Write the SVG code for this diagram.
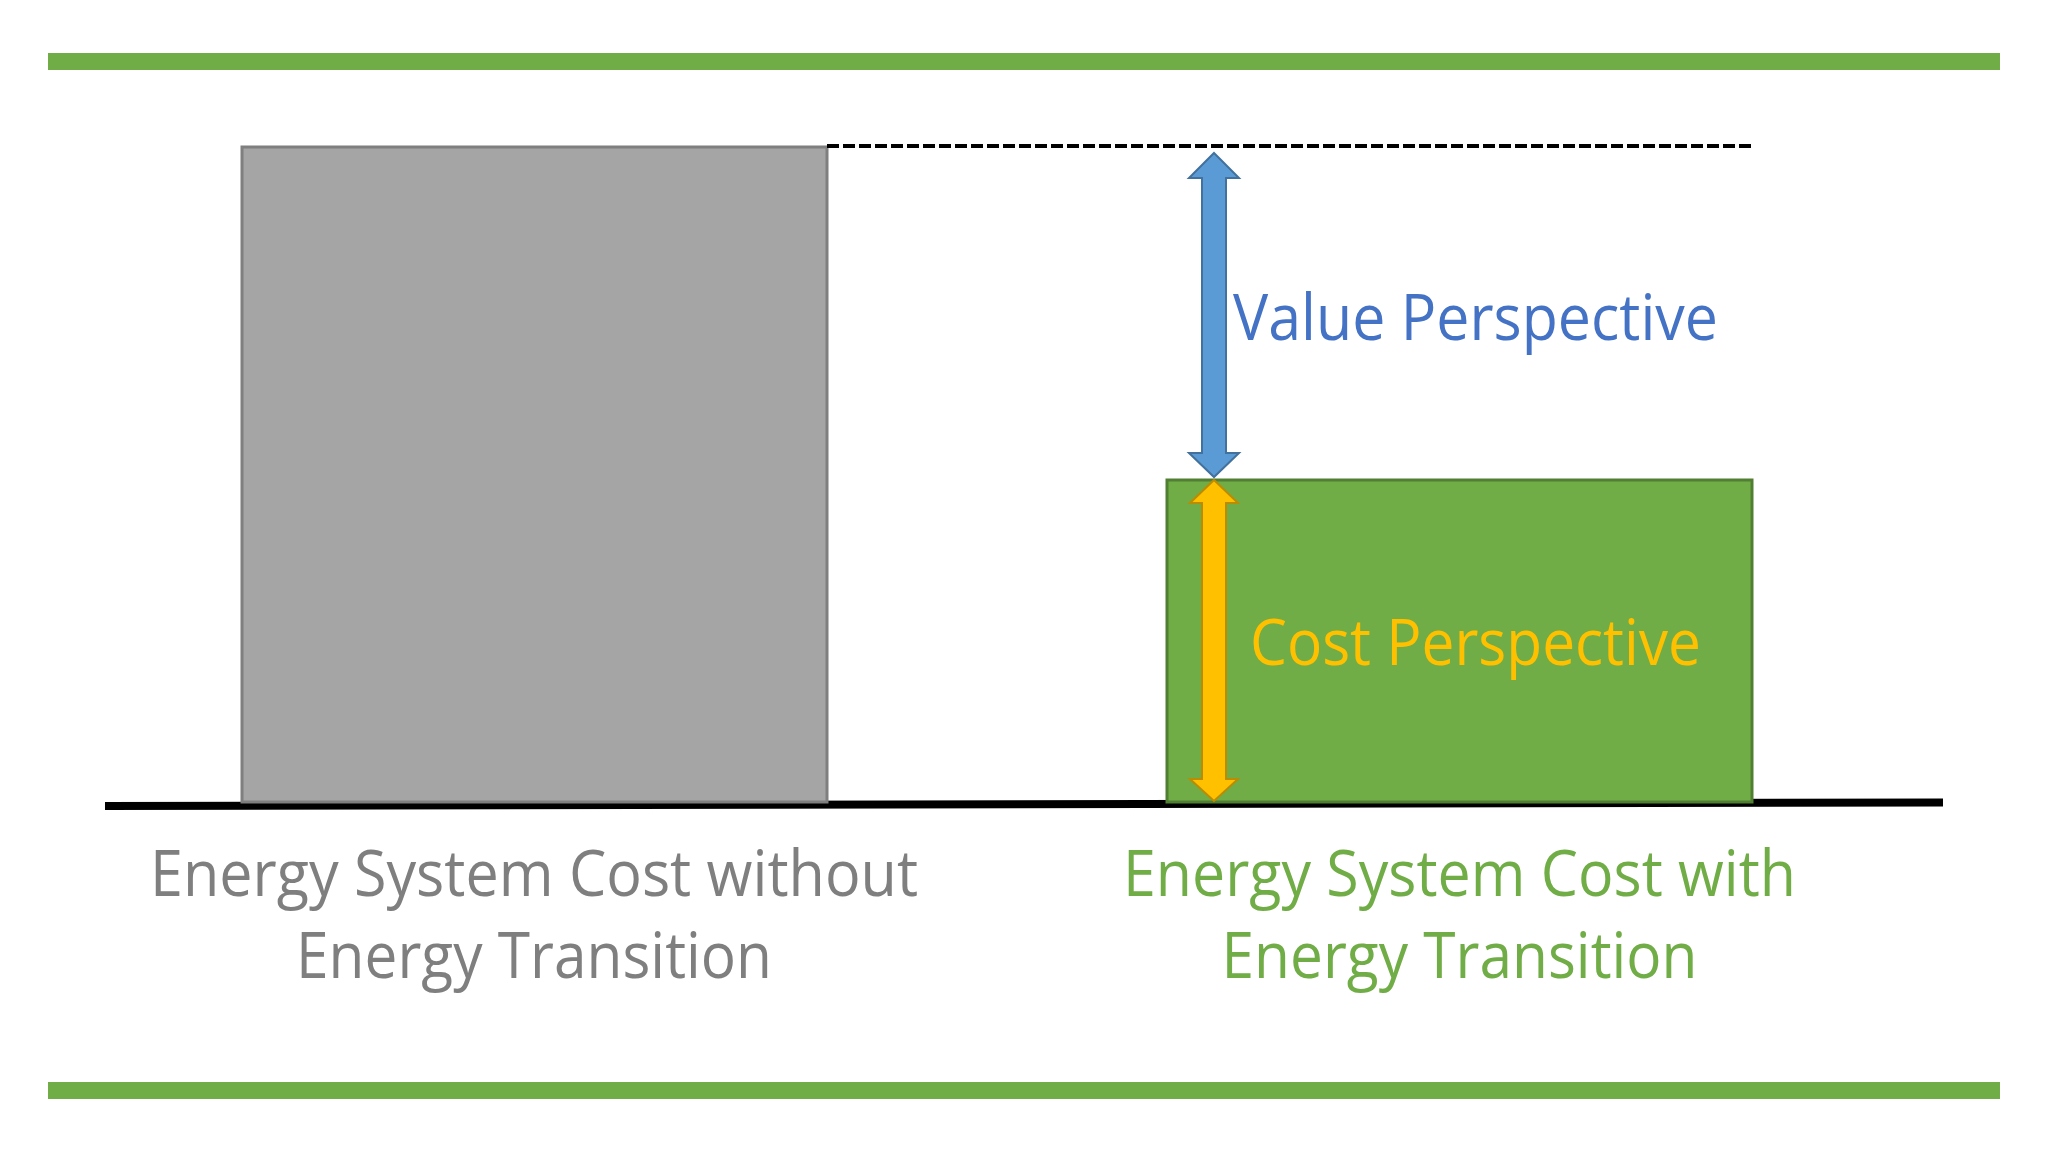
<svg xmlns="http://www.w3.org/2000/svg" width="2048" height="1152" viewBox="0 0 2048 1152">
<style>
.lbl{font-family:"Open Sans","Liberation Sans",sans-serif;font-size:64px}
.gray{fill:#7f7f7f}
.green{fill:#70ad47}
</style>
<rect x="0" y="0" width="2048" height="1152" fill="#ffffff"/>
<g id="frame">
<rect x="48" y="53" width="1952" height="17" fill="#70ad47"/>
<rect x="48" y="1082" width="1952" height="17" fill="#70ad47"/>
</g>
<g id="axis">
<line x1="105" y1="806" x2="1943" y2="802.5" stroke="#000000" stroke-width="8"/>
</g>
<g id="bar-without">
<rect x="242" y="147" width="585" height="655" fill="#a5a5a5" stroke="#7f7f7f" stroke-width="3"/>
<text class="lbl gray" x="534" y="896" text-anchor="middle" textLength="768" lengthAdjust="spacingAndGlyphs">Energy System Cost without</text>
<text class="lbl gray" x="534" y="978" text-anchor="middle" textLength="476" lengthAdjust="spacingAndGlyphs">Energy Transition</text>
</g>
<g id="bar-with">
<rect x="1167" y="480" width="585" height="322" fill="#70ad47" stroke="#507e32" stroke-width="3"/>
<text class="lbl green" x="1459.5" y="896" text-anchor="middle" textLength="673" lengthAdjust="spacingAndGlyphs">Energy System Cost with</text>
<text class="lbl green" x="1459.5" y="978" text-anchor="middle" textLength="476" lengthAdjust="spacingAndGlyphs">Energy Transition</text>
</g>
<g id="connectors">
<line x1="827" y1="146" x2="1752" y2="146" stroke="#000000" stroke-width="4" stroke-dasharray="12 4"/>
<polygon points="1214,153 1239,178 1226,178 1226,453 1239,453 1214,477 1189,453 1202,453 1202,178 1189,178" fill="#5b9bd5" stroke="#41719c" stroke-width="2" stroke-linejoin="miter"/>
<polygon points="1214,480 1238,503 1226,503 1226,779 1238,779 1214,801 1190,779 1202,779 1202,503 1190,503" fill="#ffc000" stroke="#bc8c00" stroke-width="2" stroke-linejoin="miter"/>
</g>
<g id="value-label">
<text class="lbl" x="1233" y="340" fill="#4472c4" textLength="485" lengthAdjust="spacingAndGlyphs">Value Perspective</text>
</g>
<g id="cost-label">
<text class="lbl" x="1250" y="665" fill="#ffc000" textLength="451" lengthAdjust="spacingAndGlyphs">Cost Perspective</text>
</g>
</svg>
